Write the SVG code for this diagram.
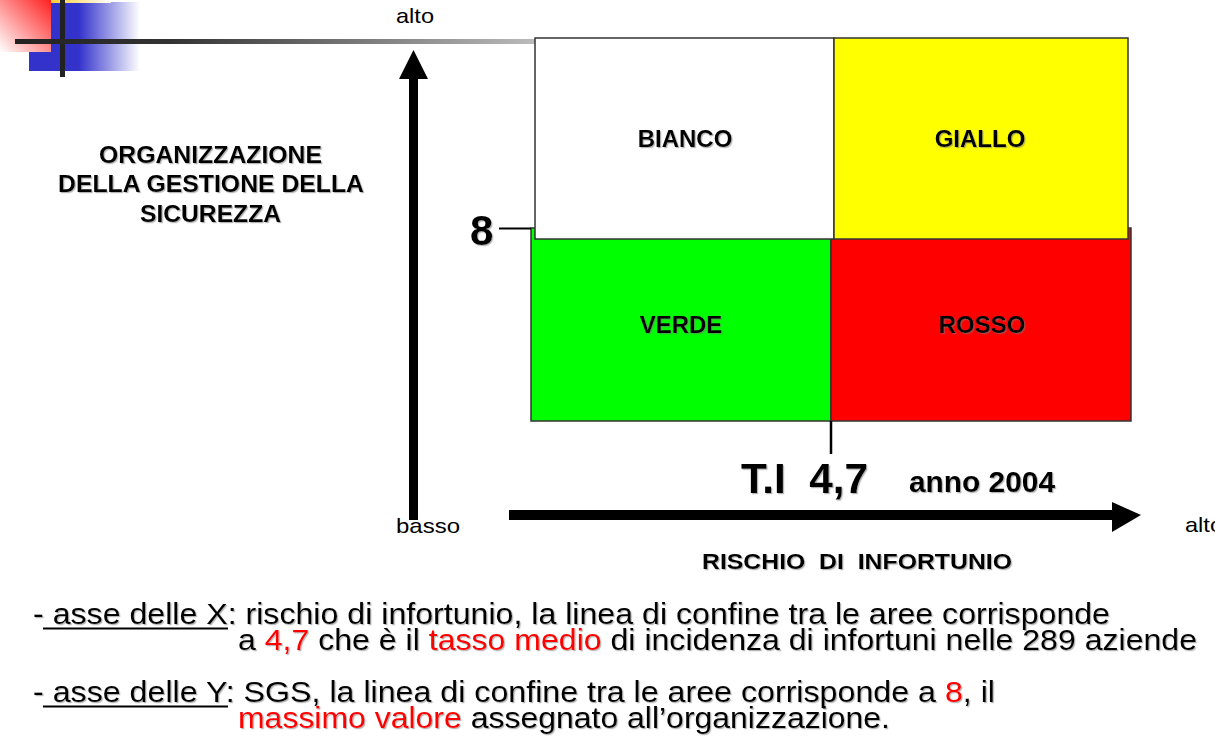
<svg xmlns="http://www.w3.org/2000/svg" width="1215" height="737" viewBox="0 0 1215 737">
<defs>
  <linearGradient id="gRed" x1="1" y1="0" x2="0" y2="1">
    <stop offset="0" stop-color="#ff2020"/>
    <stop offset="1" stop-color="#ffffff"/>
  </linearGradient>
  <linearGradient id="gBlue" x1="0" y1="0" x2="1" y2="0">
    <stop offset="0" stop-color="#3333cc"/>
    <stop offset="0.45" stop-color="#3333cc"/>
    <stop offset="1" stop-color="#ffffff"/>
  </linearGradient>
  <linearGradient id="gYellow" x1="0" y1="0" x2="1" y2="0">
    <stop offset="0" stop-color="#ffcc33"/>
    <stop offset="1" stop-color="#ffffff"/>
  </linearGradient>
  <linearGradient id="gLine" gradientUnits="userSpaceOnUse" x1="15" y1="0" x2="535" y2="0">
    <stop offset="0" stop-color="#222222"/>
    <stop offset="0.3" stop-color="#333333"/>
    <stop offset="1" stop-color="#bbbbbb"/>
  </linearGradient>
  <filter id="sh" x="-5%" y="-20%" width="110%" height="140%">
    <feDropShadow dx="1.2" dy="1.2" stdDeviation="0.6" flood-color="#777" flood-opacity="0.55"/>
  </filter>
</defs>
<style>
  text { font-family: "Liberation Sans", Arial, sans-serif; fill: #000; }
  .b { font-weight: bold; }
  .lbl { font-weight: bold; font-size: 24px; text-anchor: middle; filter: url(#sh); }
  .ax { font-size: 21px; }
  .body { font-size: 30px; filter: url(#sh); }
  .red { fill: #ff0000; }
  .box { stroke: #333; stroke-width: 1.5; }
</style>

<g id="logo">
  <rect x="29" y="2" width="111" height="69" fill="url(#gBlue)"/>
  <rect x="0" y="0" width="51" height="52" fill="url(#gRed)"/>
  <rect x="51" y="0" width="60" height="3" fill="url(#gYellow)"/>
  <rect x="60" y="0" width="5" height="77" fill="#222"/>
</g>

<g id="top-line">
  <rect x="15" y="39" width="520" height="5" fill="url(#gLine)"/>
</g>

<g id="quadrant-verde">
  <rect class="box" x="531" y="228" width="300" height="193" fill="#00ff00"/>
  <text class="lbl" x="681" y="333">VERDE</text>
</g>
<g id="quadrant-rosso">
  <rect class="box" x="831" y="228" width="300" height="193" fill="#ff0000"/>
  <text class="lbl" x="982" y="333">ROSSO</text>
</g>
<g id="quadrant-bianco">
  <rect class="box" x="535" y="38" width="299" height="201" fill="#ffffff"/>
  <text class="lbl" x="685" y="147">BIANCO</text>
</g>
<g id="quadrant-giallo">
  <rect class="box" x="834" y="38" width="294" height="201" fill="#ffff00"/>
  <text class="lbl" x="980" y="147">GIALLO</text>
</g>

<g id="connectors">
  <rect x="409" y="78" width="9" height="442" fill="#000"/>
  <polygon points="413.5,50 399,79 428,79" fill="#000"/>
  <rect x="509" y="510" width="606" height="10" fill="#000"/>
  <polygon points="1141,515 1112,502 1112,532" fill="#000"/>
  <line x1="499" y1="228.5" x2="531" y2="228.5" stroke="#000" stroke-width="2"/>
  <line x1="831" y1="421" x2="831" y2="454" stroke="#000" stroke-width="2.5"/>
</g>

<g id="y-axis-labels">
  <text class="ax" x="396" y="23" textLength="38" lengthAdjust="spacingAndGlyphs">alto</text>
  <text class="ax" x="396" y="533" textLength="64" lengthAdjust="spacingAndGlyphs">basso</text>
  <text class="b" x="470" y="245" font-size="42" filter="url(#sh)">8</text>
  <g font-weight="bold" font-size="24" filter="url(#sh)">
    <text x="99" y="163" textLength="223" lengthAdjust="spacingAndGlyphs">ORGANIZZAZIONE</text>
    <text x="58" y="192" textLength="306" lengthAdjust="spacingAndGlyphs">DELLA GESTIONE DELLA</text>
    <text x="140" y="222" textLength="141" lengthAdjust="spacingAndGlyphs">SICUREZZA</text>
  </g>
</g>

<g id="x-axis-labels">
  <text class="b" x="741" y="493" font-size="42" textLength="127" lengthAdjust="spacingAndGlyphs" filter="url(#sh)" xml:space="preserve">T.I  4,7</text>
  <text class="b" x="909" y="492" font-size="30" textLength="146" lengthAdjust="spacingAndGlyphs" filter="url(#sh)">anno 2004</text>
  <text class="ax" x="1185" y="532" textLength="38" lengthAdjust="spacingAndGlyphs">alto</text>
  <text class="b" x="702" y="569" font-size="22" textLength="310" lengthAdjust="spacingAndGlyphs" filter="url(#sh)" xml:space="preserve">RISCHIO  DI  INFORTUNIO</text>
</g>

<g id="notes">
  <text class="body" x="33" y="624" textLength="1077" lengthAdjust="spacingAndGlyphs">- asse delle X: rischio di infortunio, la linea di confine tra le aree corrisponde</text>
  <line x1="43" y1="628.5" x2="228" y2="628.5" stroke="#000" stroke-width="2"/>
  <text class="body" x="238" y="650" textLength="959" lengthAdjust="spacingAndGlyphs">a <tspan class="red">4,7</tspan> che è il <tspan class="red">tasso medio</tspan> di incidenza di infortuni nelle 289 aziende</text>
  <text class="body" x="33" y="702" textLength="962" lengthAdjust="spacingAndGlyphs">- asse delle Y: SGS, la linea di confine tra le aree corrisponde a <tspan class="red">8</tspan>, il</text>
  <line x1="43" y1="706.5" x2="228" y2="706.5" stroke="#000" stroke-width="2"/>
  <text class="body" x="238" y="728" textLength="652" lengthAdjust="spacingAndGlyphs"><tspan class="red">massimo valore</tspan> assegnato all’organizzazione.</text>
</g>
</svg>
